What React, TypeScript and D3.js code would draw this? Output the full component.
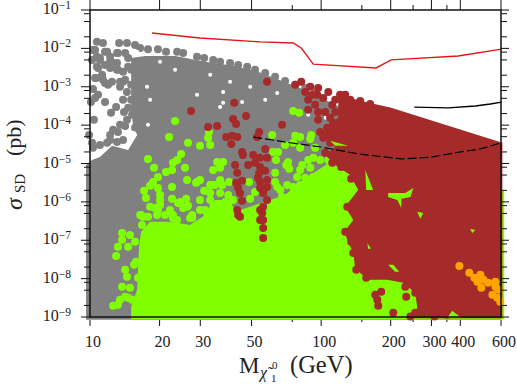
import React from 'react';
import * as d3 from 'd3';

type Pt = [number, number];

// all points are [log10 mass in GeV, log10 sigma in pb]
const grayRegion: Pt[] = [
  [0.983, -9.07], [0.983, -5.04], [1.009, -4.91], [1.043, -4.83], [1.095, -4.54], [1.165, -4.65],
  [1.204, -4.26], [1.186, -3.99], [1.178, -3.6], [1.178, -2.95], [1.178, -2.25], [1.238, -2.2],
  [1.368, -2.2], [1.498, -2.35], [1.628, -2.46], [1.727, -2.61], [1.909, -3.03], [2.082, -3.53],
  [2.342, -4.07], [2.78, -4.54], [2.78, -9.07],
];
const grayPoints: Pt[] = [
  [1.03, -1.83], [1.056, -1.86], [1.126, -1.86], [1.16, -1.86], [1.195, -1.91], [1.217, -1.99],
  [1.251, -2.02], [1.294, -2.02], [1.329, -2.09], [1.377, -2.09], [1.403, -2.12], [1.463, -2.22],
  [1.494, -2.25], [1.533, -2.3], [1.563, -2.35], [1.606, -2.38], [1.641, -2.43], [1.68, -2.48],
  [1.714, -2.56], [1.758, -2.64], [1.801, -2.74], [1.844, -2.85], [1.888, -2.95], [1.931, -3.03],
  [1.974, -3.16], [1.013, -2.04], [1.03, -2.22], [1.074, -2.09], [1.117, -2.12], [1.152, -2.12],
  [1.009, -2.3], [1.043, -2.3], [1.087, -2.35], [1.117, -2.38], [1.165, -2.25], [1.035, -2.51],
  [1.087, -2.51], [1.117, -2.56], [1.143, -2.61], [1.165, -2.48], [1.026, -2.77], [1.056, -2.82],
  [1.078, -2.95], [1.052, -2.69], [1.13, -2.87], [1.152, -2.82], [1.013, -3.06], [1.035, -3.21],
  [1.022, -3.29], [1.004, -3.4], [1.065, -3.4], [1.143, -3.34], [1.113, -3.53], [1.147, -3.66],
  [1.017, -3.86], [1.13, -3.99], [1.152, -4.02], [1.1, -4.12], [1.087, -4.26], [1.121, -4.18],
  [1.195, -4.07], [1.009, -4.46], [1.043, -4.52], [1.074, -4.46], [1.117, -4.44], [1.143, -4.39],
  [1.013, -4.59], [1.087, -4.39], [0.996, -4.26], [1.022, -2.04], [1.043, -2.25], [1.065, -2.09],
  [1.087, -2.22], [1.121, -2.12], [1.03, -2.48], [1.065, -2.43], [1.1, -2.38], [1.121, -2.56],
  [1.052, -2.74], [1.065, -2.9], [1.095, -2.87], [1.022, -2.77], [1.13, -3.0], [1.143, -2.87],
  [1.091, -3.68], [1.178, -2.56], [1.178, -2.95], [1.178, -3.34], [1.182, -3.73], [1.16, -3.14],
  [1.165, -3.55], [1.16, -3.86],
];
const whiteGaps: Pt[] = [
  [1.606, -2.87], [1.758, -3.34], [1.693, -3.0], [1.576, -3.14], [1.576, -3.42], [1.658, -3.4],
  [1.81, -3.16], [1.944, -3.73], [1.247, -3.0], [1.463, -3.21], [1.251, -3.99], [1.186, -4.2],
  [1.563, -3.53], [1.303, -2.35], [1.204, -2.09], [2.02, -3.81], [1.26, -3.34], [1.368, -2.56],
  [1.52, -2.69],
];
const greenRegion: Pt[] = [
  [1.178, -9.06], [1.178, -8.73], [1.204, -8.29], [1.212, -7.17], [1.221, -6.78], [1.26, -6.52],
  [1.346, -6.52], [1.433, -6.6], [1.498, -6.34], [1.541, -5.95], [1.606, -5.95], [1.628, -6.26],
  [1.714, -6.08], [1.779, -5.95], [1.844, -5.82], [1.909, -5.48], [1.974, -5.22], [2.039, -4.96],
  [2.104, -4.65], [2.169, -4.83], [2.256, -5.82], [2.792, -5.69], [2.792, -9.06],
];
const greenPoints: Pt[] = [
  [1.368, -3.89], [1.342, -4.31], [1.424, -4.46], [1.476, -4.54], [1.515, -4.18], [1.511, -4.33],
  [1.52, -4.52], [1.251, -4.88], [1.394, -4.75], [1.377, -4.91], [1.359, -4.98], [1.355, -5.17],
  [1.329, -5.22], [1.294, -5.35], [1.273, -5.48], [1.277, -5.11], [1.411, -5.11], [1.533, -5.17],
  [1.55, -4.96], [1.576, -4.96], [1.563, -5.11], [1.42, -5.43], [1.476, -5.43], [1.463, -5.48],
  [1.563, -5.43], [1.602, -5.48], [1.688, -5.48], [1.52, -5.56], [1.355, -5.61], [1.26, -5.58],
  [1.234, -5.71], [1.294, -5.64], [1.303, -5.82], [1.242, -5.9], [1.303, -5.95], [1.459, -5.5],
  [1.494, -5.71], [1.533, -5.56], [1.476, -5.95], [1.355, -5.92], [1.416, -5.92], [1.381, -6.03],
  [1.403, -6.16], [1.424, -6.1], [1.303, -6.08], [1.294, -6.21], [1.281, -6.16], [1.346, -6.21],
  [1.217, -6.34], [1.251, -6.39], [1.29, -6.34], [1.325, -6.34], [1.359, -6.34], [1.442, -6.34],
  [1.498, -6.21], [1.533, -6.13], [1.52, -6.34], [1.788, -4.26], [1.844, -4.52], [1.879, -4.46],
  [1.909, -4.59], [1.888, -4.28], [1.909, -4.31], [1.957, -4.26], [1.953, -4.36], [1.974, -4.59],
  [1.541, -5.56], [1.572, -5.56], [1.792, -4.7], [1.814, -4.7], [1.805, -4.91], [1.801, -5.24],
  [1.857, -4.96], [1.849, -5.04], [1.862, -5.14], [1.918, -5.04], [1.944, -4.91], [1.966, -4.85],
  [1.996, -4.91], [1.909, -5.17], [1.953, -5.11], [2.018, -5.22], [1.801, -5.48], [1.81, -5.61],
  [1.853, -5.56], [1.879, -5.61], [1.896, -5.35], [1.823, -5.69], [1.831, -5.87], [1.875, -5.9],
  [1.714, -5.74], [1.693, -5.92], [1.931, -5.37], [1.966, -5.35], [1.996, -5.43], [1.909, -5.56],
  [1.953, -5.56], [2.018, -5.56], [1.52, -5.77], [1.563, -5.77], [1.598, -5.82], [1.619, -5.95],
  [1.585, -6.0], [1.879, -3.63], [1.905, -3.68], [2.031, -4.91], [2.074, -5.24], [2.087, -4.91],
  [2.074, -4.83], [2.052, -5.35], [1.139, -6.81], [1.139, -6.99], [1.173, -6.86], [1.121, -7.17],
  [1.165, -7.17], [1.195, -7.04], [1.113, -7.41], [1.199, -7.56], [1.191, -7.64], [1.152, -7.77],
  [1.16, -7.95], [1.208, -7.98], [1.139, -8.21], [1.173, -8.24], [1.152, -8.47], [1.13, -8.55],
  [1.1, -8.71], [1.121, -8.68], [1.182, -8.55], [1.165, -8.5], [1.221, -6.34], [1.39, -6.0],
  [1.346, -6.29], [1.359, -6.42], [1.442, -6.42], [1.455, -6.65], [1.225, -6.6], [1.229, -6.39],
  [1.26, -6.13], [1.377, -6.47], [1.42, -6.13], [1.433, -6.42], [1.476, -6.21], [1.507, -6.29],
  [1.52, -5.95], [1.55, -6.55],
];
const brownRegion: Pt[] = [
  [2.074, -3.21], [2.173, -3.37], [2.303, -3.55], [2.784, -4.46], [2.784, -9.03], [2.386, -9.03],
  [2.416, -8.76], [2.407, -8.37], [2.355, -8.11], [2.286, -8.03], [2.2, -8.03], [2.147, -7.72],
  [2.139, -7.33], [2.117, -7.04], [2.1, -6.78], [2.139, -6.47], [2.104, -6.13], [2.16, -5.69],
  [2.126, -5.3], [2.061, -5.04], [2.018, -4.78], [2.061, -4.57], [2.026, -4.39], [2.031, -3.99],
  [2.074, -3.81],
];
const brownPoints: Pt[] = [
  [1.437, -3.63], [1.511, -4.05], [1.55, -4.02], [1.624, -3.42], [1.675, -3.76], [1.619, -3.84],
  [1.632, -3.97], [1.589, -4.31], [1.615, -4.28], [1.637, -4.31], [1.611, -4.49], [1.732, -4.18],
  [1.723, -4.31], [1.758, -4.62], [1.658, -4.7], [1.662, -4.78], [1.706, -4.78], [1.736, -4.85],
  [1.766, -4.85], [1.684, -5.04], [1.714, -4.98], [1.628, -5.04], [1.637, -5.24], [1.736, -5.09],
  [1.758, -5.19], [1.732, -5.24], [1.727, -5.37], [1.766, -5.43], [1.658, -5.45], [1.632, -5.5],
  [1.641, -5.64], [1.649, -5.77], [1.658, -5.97], [1.736, -5.48], [1.766, -5.61], [1.736, -5.64],
  [1.749, -5.77], [1.766, -5.95], [1.637, -6.21], [1.641, -6.34], [1.649, -6.39], [1.749, -6.13],
  [1.736, -6.21], [1.745, -6.29], [1.749, -6.47], [1.736, -6.47], [1.749, -6.68], [1.749, -6.94],
  [1.766, -2.87], [1.888, -2.95], [1.914, -2.87], [1.953, -3.0], [1.987, -3.03], [2.031, -3.14],
  [1.931, -3.14], [1.944, -3.34], [1.983, -3.21], [2.009, -3.29], [2.048, -3.47], [2.018, -3.66],
  [1.944, -3.6], [1.987, -3.86], [2.026, -4.07], [1.996, -4.18], [2.009, -4.33], [2.039, -4.46],
  [1.831, -3.99], [2.039, -4.07], [2.052, -3.94], [2.018, -4.72], [2.048, -4.98], [2.13, -5.4],
  [2.087, -5.09], [2.26, -8.34], [2.234, -8.42], [2.243, -8.55], [2.247, -8.71], [2.312, -8.89],
  [2.364, -8.21], [2.368, -8.47], [2.407, -8.37], [2.386, -8.99], [2.407, -8.89], [2.433, -8.81],
  [2.152, -7.77], [2.195, -7.98], [2.13, -7.04], [2.104, -6.78], [2.113, -6.13], [2.139, -7.33],
  [2.49, -8.99], [2.546, -8.94], [2.104, -3.21], [2.169, -3.37], [2.061, -3.34], [1.974, -3.47],
  [2.061, -3.66], [2.039, -3.81], [1.961, -3.21], [2.074, -4.12], [2.061, -4.33], [2.022, -4.26],
  [1.987, -3.66], [2.082, -3.21], [2.126, -3.34], [2.212, -3.45],
];
// green cracks left showing through the brown block
const greenPatches: Pt[][] = [
  [[2.29, -5.77], [2.364, -5.77], [2.399, -5.64], [2.386, -5.87], [2.347, -5.92], [2.347, -6.16], [2.33, -5.95], [2.29, -5.87]],
  [[2.416, -6.26], [2.442, -6.29], [2.429, -6.44]],
  [[2.546, -9.02], [2.567, -8.84], [2.606, -9.02]],
  [[2.29, -7.64], [2.312, -7.64], [2.338, -7.82], [2.32, -7.82]],
  [[2.039, -4.41], [2.117, -4.54], [2.061, -4.54]],
  [[2.2, -7.07], [2.216, -7.22], [2.203, -7.22]],
  [[2.645, -6.7], [2.667, -6.73], [2.654, -6.81]],
  [[2.191, -5.17], [2.225, -5.69], [2.195, -5.69]],
];
const orangePoints: Pt[] = [
  [2.598, -7.67], [2.641, -7.85], [2.663, -7.98], [2.689, -7.9], [2.676, -8.08], [2.702, -8.03],
  [2.693, -8.24], [2.723, -8.11], [2.754, -8.08], [2.754, -8.21], [2.741, -8.42], [2.762, -8.5],
  [2.775, -8.6], [2.767, -8.29],
];
const redLimit: Pt[] = [
  [1.268, -1.6], [1.476, -1.73], [1.736, -1.83], [1.879, -1.86], [1.914, -1.99], [1.966, -2.41],
  [2.238, -2.51], [2.303, -2.3], [2.593, -2.2], [2.78, -2.02],
];
const blackLimit: Pt[] = [
  [2.403, -3.53], [2.55, -3.55], [2.667, -3.5], [2.732, -3.45], [2.78, -3.4],
];
const dashedLimit: Pt[] = [
  [1.706, -4.31], [1.866, -4.46], [2.0, -4.57], [2.16, -4.75], [2.347, -4.88], [2.472, -4.84],
  [2.58, -4.72], [2.689, -4.62], [2.78, -4.46],
];

const xLabelled = [10, 20, 30, 50, 100, 200, 300, 400, 600];
const xMinor = [75, 150, 250, 350];
const yExponents = [-1, -2, -3, -4, -5, -6, -7, -8, -9];
const yMinorFactors = [2, 5, 8];

const x = d3.scaleLog().domain([10, 600]).range([90, 501]);
const y = d3.scaleLog().domain([1e-9, 1e-1]).range([317, 10]);

const px = (d: Pt) => x(10 ** d[0]);
const py = (d: Pt) => y(10 ** d[1]);
const line = d3.line<Pt>().x(px).y(py);
const area = (pts: Pt[]) => line(pts) + 'Z';

const Dots = ({ data, fill, r = 4 }: { data: Pt[]; fill: string; r?: number }) => (
  <g fill={fill}>
    {data.map((d, i) => (
      <circle key={i} cx={px(d)} cy={py(d)} r={r} />
    ))}
  </g>
);

const GRAY = '#808080';
const GREEN = '#7fff00';
const BROWN = '#a52a2a';
const ORANGE = '#ffa500';
const SERIF = "'Liberation Serif', serif";

export default function App() {
  const yMinor = yExponents.slice(1).flatMap((e) => yMinorFactors.map((f) => f * 10 ** e));
  return (
    <svg
      width={517}
      height={384}
      style={{ position: 'absolute', left: 0, top: 0, background: '#fff' }}
      fontFamily={SERIF}
      fill="#222"
    >
      <path d={area(grayRegion)} fill={GRAY} />
      <Dots data={grayPoints} fill={GRAY} />
      <Dots data={whiteGaps} fill="#fff" r={2} />
      <path d={area(greenRegion)} fill={GREEN} />
      <Dots data={greenPoints} fill={GREEN} />
      <path d={area(brownRegion)} fill={BROWN} />
      <Dots data={brownPoints} fill={BROWN} />
      {greenPatches.map((p, i) => (
        <path key={i} d={area(p)} fill={GREEN} />
      ))}
      <Dots data={orangePoints} fill={ORANGE} />

      <path d={line(redLimit) ?? ''} fill="none" stroke="#e8141c" strokeWidth={1.4} />
      <path d={line(blackLimit) ?? ''} fill="none" stroke="#000" strokeWidth={1.4} />
      <path d={line(dashedLimit) ?? ''} fill="none" stroke="#000" strokeWidth={1.2} strokeDasharray="9 3" />

      {/* frame and ticks */}
      <rect x={90} y={10} width={411} height={307} fill="none" stroke="#111" strokeWidth={1.5} />
      <g stroke="#111" strokeWidth={1}>
        {xLabelled.map((v) => (
          <g key={v}>
            <line x1={x(v)} x2={x(v)} y1={0} y2={10} />
            <line x1={x(v)} x2={x(v)} y1={320} y2={326} />
          </g>
        ))}
        {xMinor.map((v) => (
          <g key={v}>
            <line x1={x(v)} x2={x(v)} y1={5} y2={10} />
            <line x1={x(v)} x2={x(v)} y1={320} y2={322} />
          </g>
        ))}
        {yExponents.map((e) => (
          <g key={e}>
            <line x1={81} x2={90} y1={y(10 ** e)} y2={y(10 ** e)} />
            <line x1={501} x2={509} y1={y(10 ** e)} y2={y(10 ** e)} />
          </g>
        ))}
        {yMinor.map((v, i) => (
          <g key={i}>
            <line x1={84} x2={90} y1={y(v)} y2={y(v)} />
            <line x1={501} x2={507} y1={y(v)} y2={y(v)} />
          </g>
        ))}
      </g>

      {xLabelled.map((v) => (
        <text key={v} x={x(v) + 3} y={347} fontSize={16} textAnchor="middle">
          {v}
        </text>
      ))}
      {yExponents.map((e) => (
        <text key={e} x={71} y={y(10 ** e) + 4} fontSize={16} textAnchor="end">
          10
          <tspan dy={-5} fontSize={11.5}>
            {'\u2212' + Math.abs(e)}
          </tspan>
        </text>
      ))}

      {/* x title */}
      <text x={239} y={373} fontSize={23}>M</text>
      <text x={260} y={378} fontSize={16} fontStyle="italic">{'\u03c7\u0303'}</text>
      <text x={272} y={369} fontSize={11}>0</text>
      <text x={271} y={382} fontSize={11}>1</text>
      <text x={290} y={373} fontSize={24.5}>(GeV)</text>

      {/* y title */}
      <g transform="translate(22,210) rotate(-90)">
        <text x={0} y={0} fontSize={24} fontStyle="italic">{'\u03c3'}</text>
        <text x={17} y={3} fontSize={15}>SD</text>
        <text x={54} y={-1} fontSize={22}>(pb)</text>
      </g>
    </svg>
  );
}
